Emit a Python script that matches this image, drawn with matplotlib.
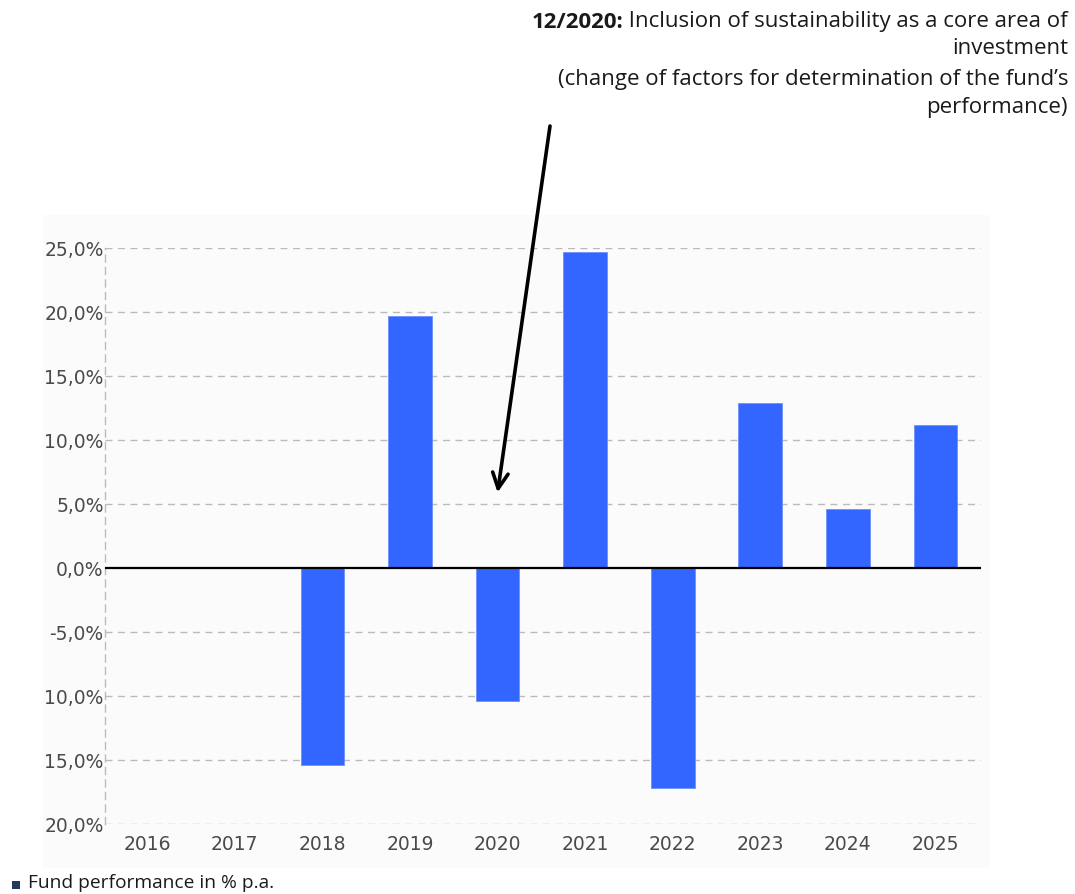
import matplotlib
matplotlib.use('Agg')
import matplotlib.pyplot as plt
from matplotlib.patches import Rectangle
import numpy as np

# data
years = ['2016', '2017', '2018', '2019', '2020', '2021', '2022', '2023', '2024', '2025']
perf = [np.nan, np.nan, -15.4, 19.7, -10.4, 24.7, -17.2, 12.9, 4.6, 11.2]
ytick_vals = [-20, -15, -10, -5, 0, 5, 10, 15, 20, 25]
ytick_labels = ['20,0%', '15,0%', '10,0%', '-5,0%', '0,0%', '5,0%', '10,0%', '15,0%', '20,0%', '25,0%']
note_bold = '12/2020:'
note_lines = [' Inclusion of sustainability as a core area of',
              'investment',
              '(change of factors for determination of the fund\u2019s',
              'performance)']
legend_label = 'Fund performance in % p.a.'

W, H = 1075, 894
fig = plt.figure(figsize=(W / 100, H / 100), dpi=100)
fig.patch.set_facecolor('white')

# faint panel behind the chart
fig.patches.append(Rectangle((43 / W, 26 / H), 947 / W, 653 / H, transform=fig.transFigure,
                             facecolor='#fbfbfb', edgecolor='none', zorder=-5))

ax = fig.add_axes([105 / W, 70 / H, 876 / W, 576 / H])
ax.set_facecolor('none')
ax.set_zorder(2)
x = np.arange(len(years))
ax.bar(x, perf, width=0.5, color='#3366ff', edgecolor='#6f90ff', linewidth=0.6, zorder=3)

ax.set_xlim(-0.483, len(years) - 0.48)
ax.set_ylim(-20, 25)
ax.set_yticks(ytick_vals)
ax.set_yticklabels(ytick_labels)
ax.set_xticks(x)
ax.set_xticklabels(years)
for v in ytick_vals:
    if v != 0:
        ax.axhline(v, color='#bbbbbb', lw=1, ls=(0, (5, 4)), zorder=1)
ax.axhline(0, color='black', lw=1.6, zorder=4)

for s in ['top', 'right', 'bottom']:
    ax.spines[s].set_visible(False)
ax.spines['left'].set_color('#bbbbbb')
ax.spines['left'].set_linestyle((0, (5, 4)))
ax.spines['left'].set_linewidth(1)
ax.tick_params(axis='both', length=0, labelsize=13.5, labelcolor='#4a4a4a')
ax.tick_params(axis='x', pad=8)
ax.tick_params(axis='y', pad=1)

# annotation text, right aligned
fs = 16
font = 'Open Sans'
x_right = 1068 / W
line_y = [22, 48, 79, 107]
t0 = fig.text(x_right, 1 - line_y[0] / H, note_lines[0], ha='right', va='center',
              fontsize=fs, family=font, color='#1a1a1a')
fig.canvas.draw()
bb = t0.get_window_extent(renderer=fig.canvas.get_renderer())
fig.text(bb.x0 / W, 1 - line_y[0] / H, note_bold, ha='right', va='center',
         fontsize=fs, family=font, weight='bold', color='#1a1a1a')
for txt, yy in zip(note_lines[1:], line_y[1:]):
    fig.text(x_right, 1 - yy / H, txt, ha='right', va='center',
             fontsize=fs, family=font, color='#1a1a1a')

# arrow pointing at 2020
ax.annotate('', xy=(4.0, 5.9), xycoords='data',
            xytext=(550 / W, 1 - 126 / H), textcoords='figure fraction',
            arrowprops=dict(arrowstyle='->', lw=2.6, color='black', mutation_scale=28,
                            shrinkA=0, shrinkB=0), annotation_clip=False)

# legend at the bottom
fig.patches.append(Rectangle((12 / W, 1 - 889 / H), 8 / W, 8 / H, transform=fig.transFigure,
                             facecolor='#1e3a5f', edgecolor='none'))
fig.text(28 / W, 1 - 883 / H, legend_label, ha='left', va='center',
         fontsize=13.8, family=font, color='#1a1a1a')

fig.savefig('out.png', dpi=100)
